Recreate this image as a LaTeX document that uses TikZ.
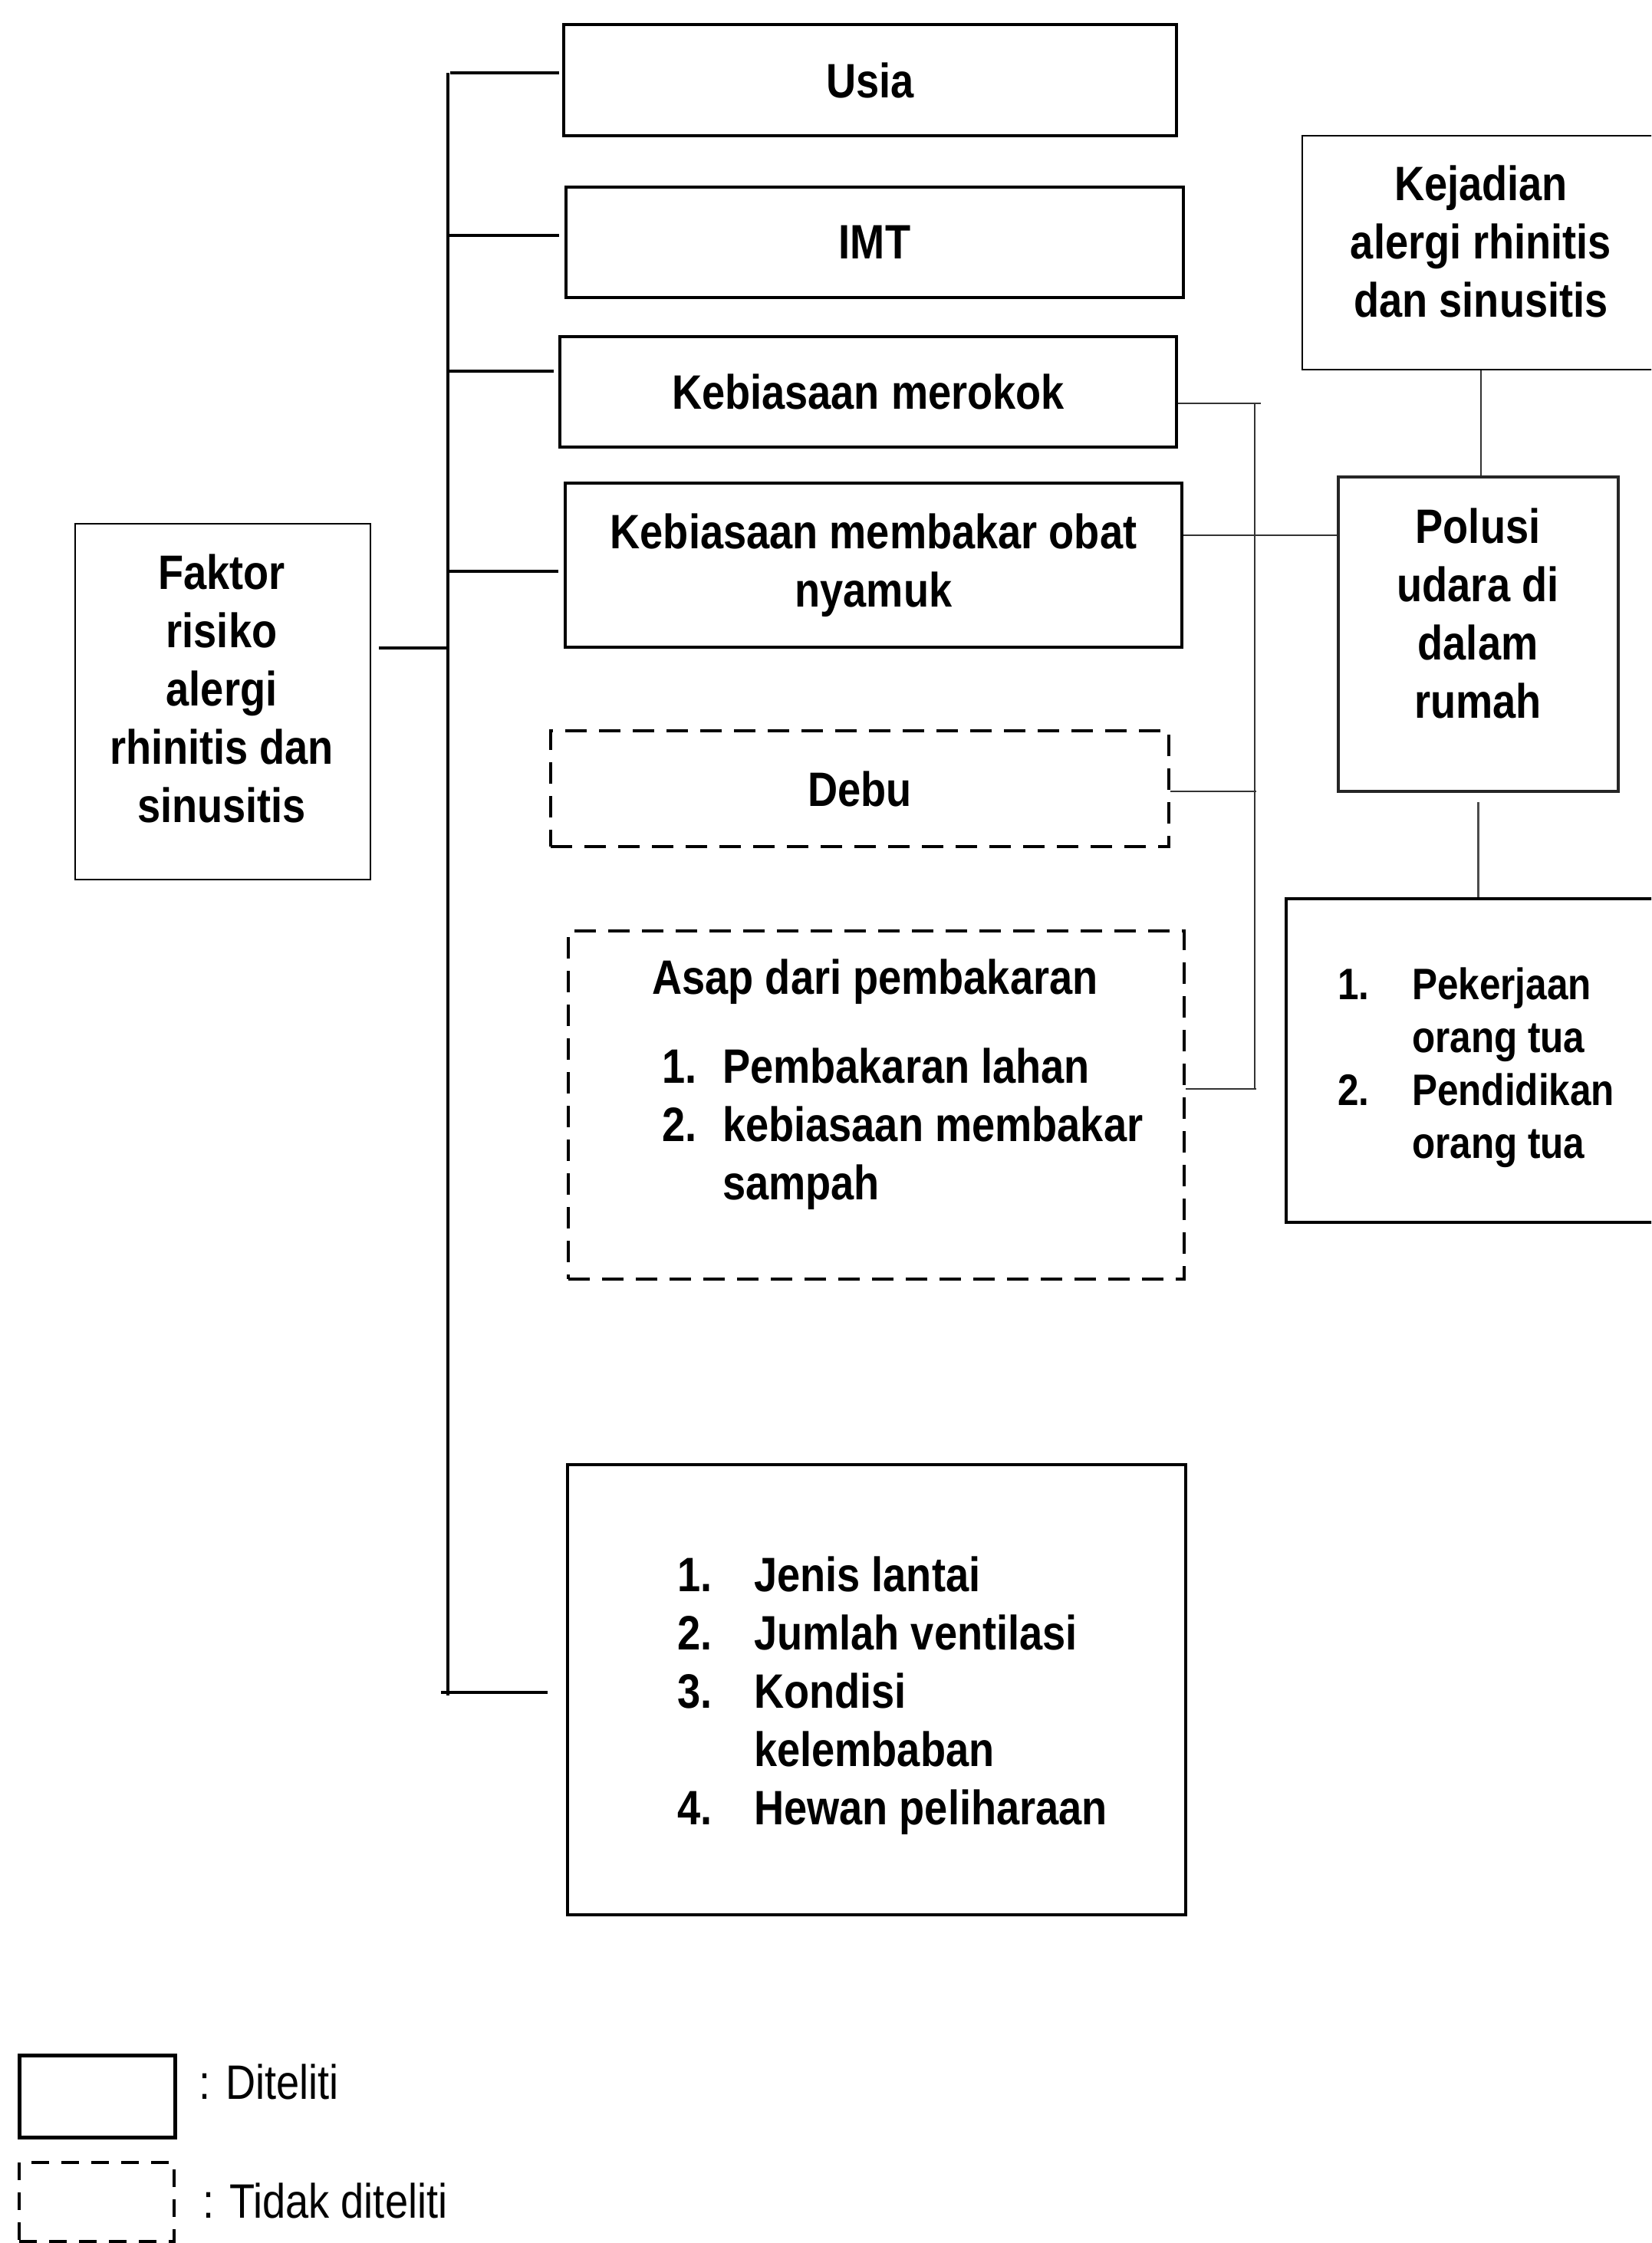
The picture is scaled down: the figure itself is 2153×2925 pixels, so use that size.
\documentclass[tikz,border=0pt]{standalone}
\usepackage{fontspec}
\setmainfont{Liberation Sans}
\newfontfamily\narfont[FakeStretch=0.86]{Liberation Sans}
\begin{document}
\begin{tikzpicture}[x=1pt,y=-1pt,
  bfont/.style={font=\narfont\bfseries\fontsize{63}{76}\selectfont},
  sbox/.style={draw, line width=4.5pt, inner sep=0pt, align=center, bfont},
  tbox/.style={draw, line width=2.8pt, inner sep=0pt},
  dbox/.style={draw, line width=4.5pt, dash pattern=on 28pt off 16pt, inner sep=0pt, align=center, bfont},
  txt/.style={inner sep=0pt, align=center, bfont},
  lsttxt/.style={inner sep=0pt, anchor=base west, bfont},
  trunkline/.style={line width=4pt},
  conn/.style={line width=2.4pt, black!80},
  legtxt/.style={inner sep=0pt, anchor=base west, font=\narfont\fontsize{63}{70}\selectfont}
]
\useasboundingbox (0,0) rectangle (2153,2925);
\clip (0,0) rectangle (2153,2925);

% left column boxes
\node[sbox, minimum width=799pt, minimum height=145pt] (usia) at (1134.5,104.5) {Usia};
\node[sbox, minimum width=805pt, minimum height=144pt] (imt) at (1140.5,316) {IMT};
\node[sbox, minimum width=804pt, minimum height=144pt] (merokok) at (1132,511) {Kebiasaan merokok};
\node[sbox, minimum width=804pt, minimum height=214pt] (obat) at (1139,737) {Kebiasaan membakar obat\\nyamuk};
\node[dbox, minimum width=806pt, minimum height=151pt] (debu) at (1121,1028.5) {Debu};
\node[dbox, minimum width=803pt, minimum height=454pt] (asap) at (1142.5,1441) {};
\node[txt] (asaptitle) at (1141,1280) {Asap dari pembakaran};
\node[lsttxt] (asaplist) at (863,1412) {\begin{tabular}[t]{@{}p{79pt}@{}l@{}}1.&Pembakaran lahan\\2.&kebiasaan membakar\\&sampah\end{tabular}};
\node[sbox, minimum width=806pt, minimum height=587pt] (lst) at (1143,2203.5) {};
\node[lsttxt] (lsttext) at (883,2075) {\begin{tabular}[t]{@{}p{100pt}@{}l@{}}1.&Jenis lantai\\2.&Jumlah ventilasi\\3.&Kondisi\\&kelembaban\\4.&Hewan peliharaan\end{tabular}};

% Faktor box
\node[tbox, minimum width=385pt, minimum height=464pt] (faktor) at (290.5,915) {};
\node[txt] (faktortext) at (289,898) {Faktor\\risiko\\alergi\\rhinitis dan\\sinusitis};

% right column
\node[tbox, minimum width=466pt, minimum height=305pt] (kejadian) at (1931,329.5) {};
\node[txt] (kejadiantext) at (1931,315) {Kejadian\\alergi rhinitis\\dan sinusitis};
\node[tbox, line width=3.2pt, draw=black!85, minimum width=365pt, minimum height=410pt] (polusi) at (1927.5,827) {};
\node[txt] (polusitext) at (1927,800) {Polusi\\udara di\\dalam\\rumah};
\node[sbox, minimum width=503pt, minimum height=422pt] (prk) at (1928.5,1383) {};
\node[inner sep=0pt, anchor=base west, font=\narfont\bfseries\fontsize{57.5}{69}\selectfont] (prktext) at (1744,1303) {\begin{tabular}[t]{@{}p{97pt}@{}l@{}}1.&Pekerjaan\\&orang tua\\2.&Pendidikan\\&orang tua\end{tabular}};

% trunk on the left
\coordinate (trtop) at (584,95);
\coordinate (trbot) at (584,2211);
\draw[trunkline] (trtop) -- (trbot);
\draw[trunkline] ([xshift=-4pt,yshift=9.5pt]usia.west) -- ++(-142pt,0pt);
\draw[trunkline] ([xshift=-7pt,yshift=9pt]imt.west) -- ++(-144pt,0pt);
\draw[trunkline] ([xshift=-6pt,yshift=27pt]merokok.west) -- ++(-137pt,0pt);
\draw[trunkline] ([xshift=-7pt,yshift=-8pt]obat.west) -- ++(-146pt,0pt);
\draw[trunkline] ([xshift=10pt,yshift=70pt]faktor.east) -- ++(91pt,0pt);
\draw[trunkline] ([xshift=-24pt,yshift=-3.5pt]lst.west) -- ++(-139pt,0pt);

% right connectors
\coordinate (vt) at (1636,526);
\coordinate (vb) at (1636,1420);
\draw[conn] (vt) -- (vb);
\draw[conn] ([yshift=-15pt]merokok.east) -- ++(108pt,0pt);
\draw[conn] ([yshift=39pt]obat.east) -- ([yshift=129pt]polusi.west);
\draw[conn] ([yshift=-3.5pt]debu.east) -- ++(112pt,0pt);
\draw[conn] ([yshift=21pt]asap.east) -- ++(92pt,0pt);
\draw[conn] (kejadian.south) -- (kejadian.south |- polusi.north);
\coordinate (pq) at ([yshift=-12pt]polusi.south);
\draw[conn, line width=3.5pt, black!70] (pq) -- (pq |- prk.north);

% legend
\node[draw, line width=5pt, inner sep=0pt, minimum width=203pt, minimum height=107pt] (legA) at (126.5,2733.5) {};
\node[legtxt] (legAtext) at (259,2737) {: Diteliti};
\node[draw, line width=4.5pt, dash pattern=on 23pt off 16pt, inner sep=0pt, minimum width=202pt, minimum height=103pt] (legB) at (126,2871.5) {};
\node[legtxt] (legBtext) at (264,2892) {: Tidak diteliti};
\end{tikzpicture}
\end{document}
